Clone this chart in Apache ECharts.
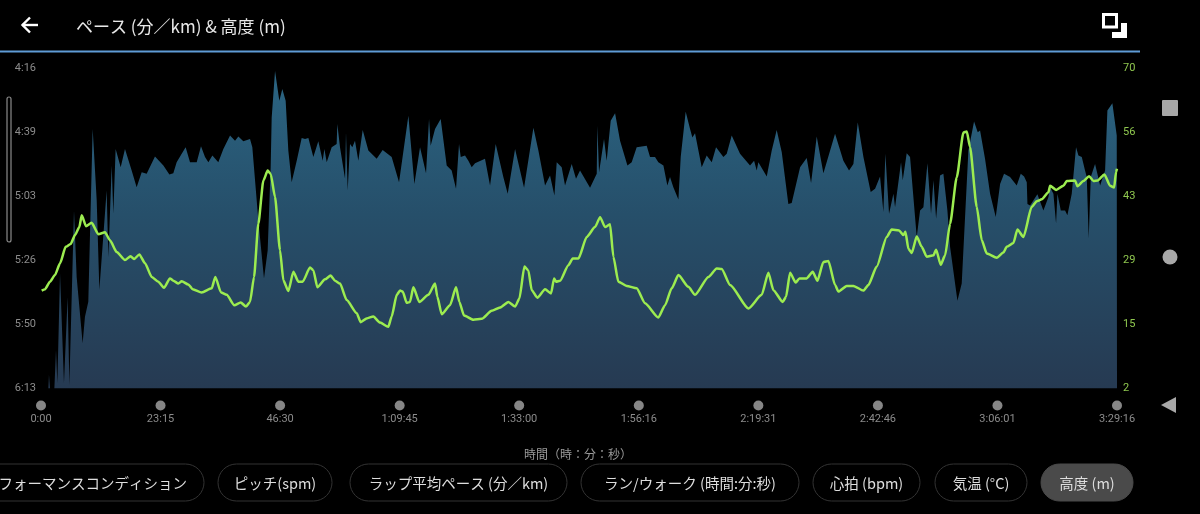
<!DOCTYPE html>
<html>
<head>
<meta charset="utf-8">
<title>ペース & 高度</title>
<style>
  html, body { margin: 0; background: #000; }
  #chart { width: 1200px; height: 514px; }
</style>
<script src="https://cdn.jsdelivr.net/npm/echarts@6/dist/echarts.min.js"></script>
</head>
<body>
<div id="chart"></div>
<script>
// [elapsed seconds, pace in seconds per km]
const pacePoints = [
  [8,373],[86,373],[93,368],[105,373],[156,373],[175,358.9],[191,371],[222,331],[268,371],[311,339.5],[331,371.7],[385,307.9],
  [416,332.2],[486,356.5],[513,346.8],[552,341.3],[603,278.1],[650,304.2],[681,337],[766,300.6],[786,324.9],[825,291.5],[844,309.1],
  [871,285.4],[930,292.1],[980,285.4],[1058,293.3],[1116,299.4],[1175,293.9],[1233,294.5],[1330,288.2],[1428,291.5],[1498,294.8],
  [1544,294.3],[1583,290.3],[1642,287.2],[1688,284.8],[1739,290.3],[1817,290.3],[1867,284.4],[1914,288.4],[1953,290.3],[2000,287.8],
  [2069,290.3],[2128,285.4],[2206,280.5],[2264,282.4],[2303,280.9],[2361,282.6],[2439,281.8],[2466,284.8],[2536,311.5],[2602,332.8],
  [2645,322.5],[2680,292.1],[2692,273.9],[2731,256.9],[2781,267.8],[2816,263.5],[2855,267.8],[2886,286],[2925,297.6],[2984,289.7],
  [3042,281.4],[3081,281.8],[3120,281.4],[3178,288.4],[3236,282.6],[3287,289.7],[3307,285.4],[3334,290.3],[3392,284.8],[3450,283.6],
  [3458,276.3],[3489,284.8],[3548,296.3],[3559,279.3],[3579,300.6],[3606,283.6],[3633,284.8],[3664,282.4],[3703,289.7],[3754,278.5],
  [3820,286],[3917,289],[3987,285.8],[4092,288.4],[4178,297.6],[4287,273.3],[4357,298.2],[4423,284.8],[4493,294.3],[4528,274.5],
  [4547,284.2],[4598,278.1],[4664,274.5],[4734,291.5],[4792,293.3],[4843,300],[4878,283.6],[4898,288.4],[4948,287.8],[4987,289.7],
  [5026,292.1],[5065,290.6],[5181,289],[5240,298.8],[5306,283.6],[5395,295.7],[5446,301.8],[5532,285.4],[5637,299.6],[5746,277.7],
  [5804,286],[5882,298.8],[5940,295.1],[5991,302.4],[6018,290.3],[6076,292.1],[6115,298.8],[6193,290.9],[6243,296.3],[6290,293.3],
  [6407,299.6],[6485,294.5],[6492,276.9],[6512,293.9],[6570,281.8],[6601,289.7],[6648,275.1],[6699,272.4],[6757,282.4],[6843,291.5],
  [6893,290.3],[6951,284.8],[7068,284.2],[7107,288.4],[7165,288.4],[7204,290.3],[7263,291.5],[7309,298.8],[7340,295.7],[7379,299.4],
  [7438,303.9],[7465,288.4],[7523,271.8],[7574,278.1],[7601,281.2],[7632,279.7],[7710,292.1],[7768,287.8],[7827,290.3],[7877,284.8],
  [7963,288.4],[8002,287.2],[8060,280.5],[8157,287.2],[8274,291.5],[8321,289.7],[8352,293.3],[8371,290.3],[8469,295.5],[8527,286],
  [8585,278.5],[8644,286.6],[8721,305.5],[8760,305.2],[8858,292.1],[8935,288.7],[8986,297.9],[9052,280.9],[9130,294.3],[9266,279.9],
  [9363,289.7],[9429,293.3],[9480,290.9],[9531,275.7],[9597,288.4],[9682,301.2],[9733,300],[9791,295.5],[9830,308.5],[9853,287.2],
  [9896,309.1],[9947,301.8],[9966,306.7],[10005,297.6],[10036,290.3],[10056,296.9],[10102,287],[10141,288.4],[10219,317.6],[10258,307.9],
  [10297,306.7],[10344,290.6],[10386,309.1],[10414,296.9],[10445,310.9],[10491,295.1],[10530,294.5],[10577,307.9],[10608,321.2],
  [10694,340.9],[10744,334.6],[10783,310.3],[10822,286],[10888,275.4],[10931,279.3],[10958,278.7],[11016,289],[11075,301.8],[11094,301.8],
  [11141,310.3],[11192,298.2],[11238,294.5],[11308,295.7],[11386,298.8],[11433,294.5],[11472,295.5],[11503,297.6],[11511,305.5],[11542,306.1],
  [11627,302],[11697,307.9],[11756,303],[11775,299.4],[11814,301.8],[11845,312.7],[11861,301.8],[11900,307.9],[11950,307.9],[11977,309.7],
  [12028,301.8],[12078,284.8],[12106,287.8],[12145,288.4],[12183,293.3],[12203,295.7],[12226,318.2],[12250,295.7],[12300,290.9],[12327,294.5],
  [12359,298.8],[12417,293.3],[12444,271.4],[12502,268.7],[12553,280.5],[12556,280.5]
];

// [elapsed seconds, altitude in m]
const altitudePoints = [
  [8,22.8],[47,23.1],[105,24.7],[163,26.1],[222,28.6],[288,32.1],[346,32.7],[397,34.6],[447,36.3],[475,38.8],[525,36.5],[591,37.2],
  [669,34.8],[747,35.2],[805,33.5],[883,31],[980,29.3],[1046,30.1],[1085,29.5],[1148,30.5],[1214,28.6],[1292,25.7],[1369,24.7],[1435,23.4],
  [1505,25.4],[1544,24.9],[1603,24.3],[1642,24.8],[1719,24.1],[1770,23.1],[1875,22.4],[1992,23.3],[2034,25.7],[2101,22.4],[2167,21.9],
  [2256,19.7],[2330,20.3],[2392,19.4],[2439,20.4],[2486,25.7],[2536,37],[2595,46.2],[2645,48.3],[2680,47.6],[2731,42.7],[2789,31.4],[2828,25],
  [2886,22.7],[2945,26.8],[3003,24.7],[3054,24.7],[3139,27.7],[3178,27.1],[3225,23.5],[3314,25.2],[3380,26],[3431,24.9],[3489,24.3],[3567,20.8],
  [3684,18],[3730,16.1],[3800,16.9],[3878,17.3],[3956,16],[4053,15.1],[4092,17.3],[4151,21.9],[4190,22.8],[4221,22.6],[4267,20.2],[4306,20.4],
  [4345,23.5],[4415,20.4],[4520,21.9],[4598,24.3],[4625,21.5],[4676,17.8],[4773,19.7],[4843,23.5],[4882,20.4],[4936,17.5],[5045,16.6],[5143,16.8],
  [5259,18.5],[5357,19.2],[5454,20.4],[5532,19.4],[5582,21.1],[5641,27.9],[5687,27.1],[5726,22.9],[5792,21.3],[5882,23.1],[5952,22.2],[5987,25.4],
  [6010,24.7],[6057,24.9],[6154,28.2],[6205,29.6],[6271,29.6],[6368,34.2],[6465,36.3],[6524,38.4],[6582,36.3],[6640,36.9],[6679,30],[6737,24.7],
  [6835,23.8],[6951,23.3],[7049,20.1],[7204,17.1],[7282,19.7],[7360,23.3],[7438,26.1],[7554,23.6],[7632,21.9],[7788,25.7],[7885,27.5],[7943,27.4],
  [8041,24],[8255,19],[8410,21.9],[8488,26.6],[8546,22.9],[8655,20.4],[8694,21.5],[8741,26.6],[8807,24.5],[8850,25.4],[8935,25.4],[9005,26.8],
  [9060,24.9],[9130,28.9],[9188,29.1],[9266,24],[9305,22.6],[9402,23.8],[9480,23.8],[9597,22.8],[9655,24],[9752,27.9],[9869,34.2],[9927,35.8],
  [10013,35.6],[10063,34.6],[10087,35.3],[10122,31.7],[10161,30.8],[10219,34.3],[10277,32.1],[10336,30],[10414,30.3],[10445,31.5],[10499,28.3],
  [10550,30.3],[10608,37],[10686,46.9],[10764,56.4],[10803,56.6],[10841,53.3],[10919,40.6],[10978,33.5],[11036,30.7],[11153,29.8],[11230,30.9],
  [11269,32.1],[11347,32.9],[11394,35.8],[11464,34.2],[11561,40.6],[11619,41.8],[11678,42.2],[11756,43.7],[11775,45.1],[11845,44.2],[11931,45.1],
  [11970,46.1],[12067,46.2],[12094,45],[12164,46.1],[12230,47.1],[12281,46.1],[12331,46.2],[12409,47.5],[12475,45.1],[12522,44.7],[12545,48],[12556,48.7]
];

const timeTicks = [0, 1395, 2790, 4185, 5580, 6976, 8371, 9766, 11161, 12556];
const timeLabels = ['0:00', '23:15', '46:30', '1:09:45', '1:33:00', '1:56:16', '2:19:31', '2:42:46', '3:06:01', '3:29:16'];
const paceTicks = [256, 279.4, 302.8, 326.2, 349.6, 373];
const paceLabels = ['4:16', '4:39', '5:03', '5:26', '5:50', '6:13'];
const altitudeTicks = [2, 15.6, 29.2, 42.8, 56.4, 70];
const altitudeLabels = ['2', '15', '29', '43', '56', '70'];

const chipNames = ['フォーマンスコンディション', 'ピッチ(spm)', 'ラップ平均ペース (分／km)', 'ラン/ウォーク (時間:分:秒)', '心拍 (bpm)', '気温 (°C)', '高度 (m)'];

const FONT = '"Noto Sans CJK JP", Roboto, sans-serif';
const chipBoxes = [[-60, 264], [218, 114], [350, 217], [581, 218], [813, 107], [935, 92], [1041, 92]];

function chips() {
  let out = [];
  chipNames.forEach(function (name, i) {
    const box = chipBoxes[i];
    const selected = i === chipNames.length - 1;
    out.push({
      type: 'rect',
      shape: { x: box[0], y: 464, width: box[1], height: 37, r: 18.5 },
      style: { fill: selected ? '#4a4a4a' : '#000', stroke: selected ? '#4a4a4a' : '#333', lineWidth: 1 }
    });
    out.push({
      type: 'text',
      style: {
        x: i === 0 ? 187 : box[0] + box[1] / 2, y: 483,
        text: name, fill: '#dedede', font: '14.5px ' + FONT,
        align: i === 0 ? 'right' : 'center', verticalAlign: 'middle'
      }
    });
  });
  return out;
}

const decorations = [
  // header
  { type: 'polyline', shape: { points: [[22, 25], [38, 25]] }, style: { stroke: '#fff', lineWidth: 2.4, fill: null } },
  { type: 'polyline', shape: { points: [[30, 17.5], [22.5, 25], [30, 32.5]] }, style: { stroke: '#fff', lineWidth: 2.4, fill: null } },
  { type: 'text', style: { x: 76, y: 27, text: 'ペース (分／km) & 高度 (m)', fill: '#e8e8e8', font: '17px ' + FONT, verticalAlign: 'middle' } },
  { type: 'rect', shape: { x: 1103.5, y: 14.5, width: 13, height: 12.5 }, style: { fill: null, stroke: '#fff', lineWidth: 3 } },
  { type: 'polygon', shape: { points: [[1121, 23], [1127, 23], [1127, 38], [1112, 38], [1112, 32], [1121, 32]] }, style: { fill: '#fff' } },
  { type: 'rect', shape: { x: 0, y: 50.5, width: 1140, height: 2 }, style: { fill: '#5f9bd6' } },
  // scroll handle
  { type: 'rect', shape: { x: 7, y: 97, width: 4, height: 145, r: 2 }, style: { fill: null, stroke: '#8a8a8a', lineWidth: 1.2 } },
  // android nav buttons
  { type: 'rect', shape: { x: 1162, y: 100, width: 16, height: 16, r: 1 }, style: { fill: '#a8a8a8' } },
  { type: 'circle', shape: { cx: 1170, cy: 257, r: 7.5 }, style: { fill: '#a8a8a8' } },
  { type: 'polygon', shape: { points: [[1176, 397], [1176, 413], [1161, 405]] }, style: { fill: '#a8a8a8' } },
  // x axis caption
  { type: 'text', style: { x: 578, y: 454, text: '時間（時：分：秒）', fill: '#9a9a9a', font: '12px ' + FONT, align: 'center', verticalAlign: 'middle' } }
].concat(chips());

const chart = echarts.init(document.getElementById('chart'));

chart.setOption({
  backgroundColor: '#000',
  animation: false,
  grid: [
    { left: 41, right: 83, top: 68.5, height: 320 },
    { left: 41, right: 83, top: 405, height: 1 }
  ],
  xAxis: [
    { type: 'value', gridIndex: 0, min: 0, max: 12556, show: false },
    {
      type: 'value', gridIndex: 1, min: 0, max: 12556,
      splitLine: { show: false }, axisLine: { show: false }, axisTick: { show: false },
      axisLabel: {
        customValues: timeTicks, margin: 8, color: '#8c8c8c', fontSize: 11, fontFamily: 'Roboto',
        formatter: function (v) { return timeLabels[timeTicks.indexOf(v)]; }
      }
    }
  ],
  yAxis: [
    {
      type: 'value', gridIndex: 0, min: 256, max: 373, inverse: true,
      splitLine: { show: false }, axisLine: { show: false }, axisTick: { show: false },
      axisLabel: {
        customValues: paceTicks, margin: 5, color: '#8c8c8c', fontSize: 11, fontFamily: 'Roboto',
        formatter: function (v) { return paceLabels[paceTicks.indexOf(v)]; }
      }
    },
    {
      type: 'value', gridIndex: 0, position: 'right', min: 2, max: 70,
      splitLine: { show: false }, axisLine: { show: false }, axisTick: { show: false },
      axisLabel: {
        customValues: altitudeTicks, margin: 6, color: '#8fc74f', fontSize: 11, fontFamily: 'Roboto',
        formatter: function (v) { return altitudeLabels[altitudeTicks.indexOf(v)]; }
      }
    },
    { type: 'value', gridIndex: 1, min: 0, max: 1, show: false }
  ],
  series: [
    {
      name: 'ペース', type: 'line', xAxisIndex: 0, yAxisIndex: 0, data: pacePoints,
      showSymbol: false, lineStyle: { width: 0 },
      areaStyle: {
        origin: 'end', opacity: 1,
        color: new echarts.graphic.LinearGradient(0, 0, 0, 1, [
          { offset: 0, color: '#2b6583' },
          { offset: 0.45, color: '#264f6a' },
          { offset: 1, color: '#263a52' }
        ])
      }
    },
    {
      name: '高度', type: 'line', xAxisIndex: 0, yAxisIndex: 1, data: altitudePoints,
      showSymbol: false, smooth: 0.2, smoothMonotone: 'x',
      lineStyle: { width: 2.5, color: '#9cec50' }, z: 3
    },
    {
      name: 'ticks', type: 'scatter', xAxisIndex: 1, yAxisIndex: 2, clip: false,
      data: timeTicks.map(function (t) { return [t, 0.5]; }),
      symbolSize: 10, itemStyle: { color: '#a8a8a8' }
    }
  ],
  graphic: decorations
});
</script>
</body>
</html>
